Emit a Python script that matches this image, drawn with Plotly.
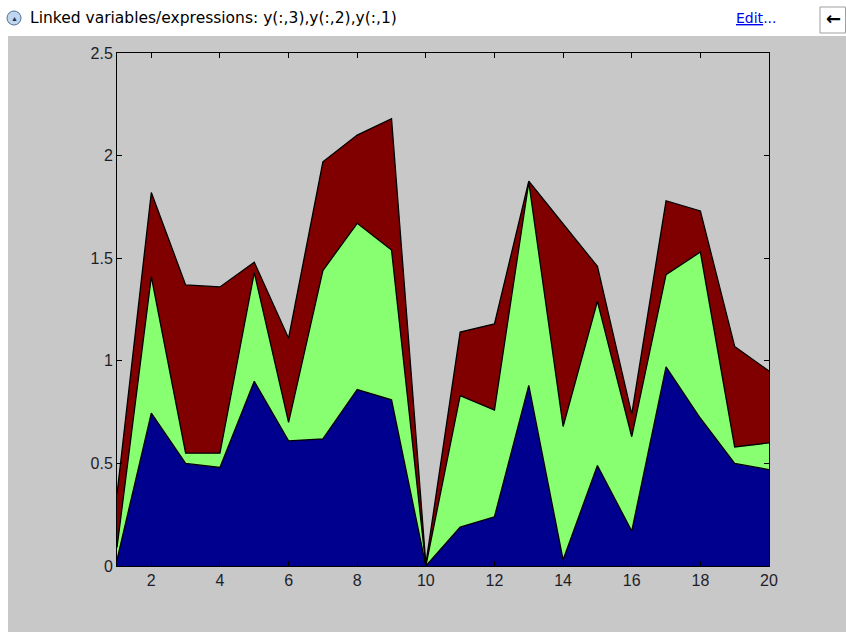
import plotly.graph_objects as go

x_vals = list(range(1, 21))
# individual (unstacked) series values
y1 = [0.03, 0.745, 0.50, 0.48, 0.90, 0.61, 0.62, 0.86, 0.81, 0.0,
      0.19, 0.24, 0.88, 0.03, 0.49, 0.17, 0.97, 0.72, 0.50, 0.47]
y2 = [0.06, 0.665, 0.05, 0.07, 0.53, 0.09, 0.82, 0.81, 0.73, 0.0,
      0.64, 0.52, 0.99, 0.65, 0.80, 0.46, 0.45, 0.81, 0.08, 0.13]
y3 = [0.26, 0.41, 0.82, 0.81, 0.05, 0.41, 0.53, 0.43, 0.64, 0.01,
      0.31, 0.42, 0.005, 0.99, 0.17, 0.11, 0.36, 0.20, 0.49, 0.35]
series = [("y(:,1)", y1, "#00008F"), ("y(:,2)", y2, "#88FF70"), ("y(:,3)", y3, "#800000")]
x_ticks = [2, 4, 6, 8, 10, 12, 14, 16, 18, 20]
y_ticks = [0, 0.5, 1, 1.5, 2, 2.5]
y_tick_text = ["0", "0.5", "1", "1.5", "2", "2.5"]

W, H = 846, 632
PL, PR, PT, PB = 117, 769, 53, 566  # plot area in page px

fig = go.Figure()
for name, vals, col in series:
    fig.add_trace(go.Scatter(
        x=x_vals, y=vals, name=name, mode="lines", stackgroup="one",
        line=dict(color="black", width=1.3), fillcolor=col,
        hoverinfo="x+y"))


def px(xp):
    return (xp - PL) / (PR - PL)


def py(yp):
    return (PB - yp) / (PB - PT)


tickfont = dict(family="Liberation Sans, Arial, sans-serif", size=16, color="#1e1e28")
fig.update_layout(
    width=W, height=H,
    margin=dict(l=PL, r=W - PR, t=PT, b=H - PB),
    paper_bgcolor="white", plot_bgcolor="white",
    showlegend=False,
    xaxis=dict(range=[1, 20], tickvals=x_ticks, ticks="inside", ticklen=5,
               tickcolor="black", showline=True, linecolor="black", linewidth=1,
               mirror="ticks", showgrid=False, zeroline=False, tickfont=tickfont),
    yaxis=dict(range=[0, 2.5], tickvals=y_ticks, ticktext=y_tick_text,
               ticks="inside", ticklen=5,
               tickcolor="black", showline=True, linecolor="black", linewidth=1,
               mirror="ticks", showgrid=False, zeroline=False, tickfont=tickfont),
    shapes=[
        dict(type="rect", xref="paper", yref="paper", layer="below",
             x0=px(8), x1=px(846), y0=py(632), y1=py(36),
             fillcolor="#C8C8C8", line=dict(width=0)),
    ],
)

# header bar decorations
fig.add_shape(type="circle", xref="paper", yref="paper",
              x0=px(7), x1=px(21), y0=py(25), y1=py(11),
              fillcolor="#BFD6EE", line=dict(color="#4F6F96", width=1))
fig.add_shape(type="rect", xref="paper", yref="paper",
              x0=px(820), x1=px(845.5), y0=py(33), y1=py(7),
              fillcolor="white", line=dict(color="#A0A0A0", width=1))
fig.add_annotation(xref="paper", yref="paper", x=px(14), y=py(18.5), text="▲",
                   showarrow=False, font=dict(size=7, color="#1C2F55"),
                   xanchor="center", yanchor="middle")
fig.add_annotation(xref="paper", yref="paper", x=px(28), y=py(18),
                   text="Linked variables/expressions: y(:,3),y(:,2),y(:,1)",
                   showarrow=False, xanchor="left", yanchor="middle",
                   font=dict(family="DejaVu Sans, sans-serif", size=15.5, color="black"))
fig.add_annotation(xref="paper", yref="paper", x=px(734), y=py(18),
                   text="<u>Edit</u>...", showarrow=False, xanchor="left", yanchor="middle",
                   font=dict(family="DejaVu Sans, sans-serif", size=14, color="#0000EE"))
fig.add_annotation(xref="paper", yref="paper", x=px(833), y=py(19),
                   text="<b>←</b>", showarrow=False, xanchor="center", yanchor="middle",
                   font=dict(family="DejaVu Sans, sans-serif", size=18, color="black"))

fig.write_html(
    "out.html",
    config={"displayModeBar": False},
    post_script="document.body.style.margin='0';document.body.style.overflow='hidden';",
)
